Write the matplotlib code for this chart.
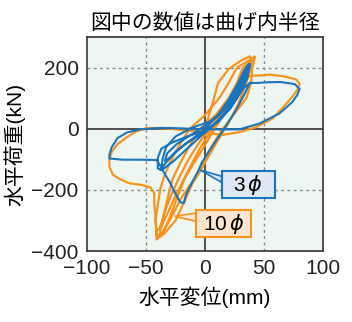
import numpy as np
import matplotlib.pyplot as plt
from matplotlib.patches import Polygon, Rectangle

plt.rcParams['font.family'] = ['Liberation Sans', 'Noto Sans CJK JP']

# 10φ (orange) load-displacement path, x: mm, y: kN
r10_x = [0, 3, 7, 11, 20, 30, 38, 41, 34, 27, 19, 8, -4, -14, -22, -29, -34, -37,
         -39, -37, -31, -24, -17, -9, -1, 8, 18, 28, 35, 40, 42,
         40, 27, 20, 12, 0, -13, -22, -30, -35, -38, -40, -42, -41,
         -35, -25, -19, -13, -7, -2, 6, 15, 25, 35, 39, 40, 42,
         41, 32, 27, 20, 9, -4, -13, -21, -27, -30, -33, -36, -39,
         -37, -31, -26, -21, -16, -11, -3, 6, 16, 27, 34, 37, 42,
         46, 55, 66, 77, 80, 79, 74, 66, 57, 43, 29, 15, 0, -15, -30, -45,
         -50, -58, -66, -74, -79, -81, -81, -78, -72, -64, -53, -46, -43, -43,
         -42, -41, -41, -38, -33, -28, -21, -14, -7, 0, 6, 12, 20, 28, 34, 38, 39]
r10_y = [0, 40, 92, 150, 195, 222, 237, 215, 170, 120, 70, 20, -40, -100, -160, -220,
         -270, -310, -330, -320, -270, -210, -160, -110, -60, 0, 60, 130, 185, 220, 236,
         230, 200, 150, 100, 45, 0, -55, -112, -160, -198, -250, -300, -350,
         -345, -300, -250, -198, -150, -112, -55, 0, 50, 100, 150, 200, 235,
         225, 200, 150, 100, 45, 0, -55, -112, -160, -198, -250, -300, -355,
         -350, -300, -250, -198, -150, -112, -55, 0, 50, 100, 150, 172, 174,
         174, 177, 172, 162, 148, 132, 105, 70, 33, 5, -11, -20, -12, -5, 0, 3,
         2, -8, -27, -50, -75, -100, -124, -150, -165, -178, -184, -192, -210, -245,
         -290, -330, -362, -350, -320, -286, -232, -190, -157, -110, -70, -30, 20, 80,
         140, 190, 225]

# 3φ (blue) load-displacement path
r3_x = [0, 10, 20, 28, 33, 37, 37, 36, 30, 22, 12, 0, -15, -28, -37, -40, -40,
        -37, -36, -33, -25, -10, 5, 15, 24, 31, 36, 38, 35, 28, 20, 10, -2, -15,
        -25, -33, -38, -35, -28, -18, -8, 2, 12, 22, 30, 36, 38, 36, 30, 22, 12,
        0, -12, -24, -32, -34, -30, -20, -8, 8, 22, 32, 38, 45, 52, 64, 76, 80,
        78, 74, 63, 46, 29, 10, -10, -25, -38, -55, -66, -74, -79, -81, -81, -70,
        -55, -41, -38, -36, -33, -30, -26, -21, -18, -16, -11, -6, -3, 3, 10,
        18, 26, 33, 38]
r3_y = [0, 40, 95, 150, 190, 212, 210, 170, 120, 70, 25, -5, -25, -45, -65, -95,
        -130, -132, -100, -60, -25, 5, 25, 60, 110, 160, 205, 205, 160, 110, 65,
        20, -15, -45, -75, -110, -135, -130, -110, -75, -40, -5, 30, 80, 130, 190,
        212, 195, 140, 90, 45, 10, -20, -50, -80, -105, -95, -60, -25, 15, 70,
        130, 150, 150, 152, 153, 146, 130, 110, 88, 50, 17, -2, -2, 0, 2, 3, -2,
        -12, -30, -60, -85, -97, -101, -101, -102, -120, -135, -155, -173, -205,
        -240, -243, -215, -175, -140, -113, -75, -35, 10, 60, 110, 150]

orange = '#f7941d'
blue = '#1b75bc'

fig = plt.figure(figsize=(3.52, 3.22), dpi=100)
ax = fig.add_axes([0.247, 0.22, 0.671, 0.665])
ax.set_facecolor('#eef6f1')

for v in [-50, 50]:
    ax.axvline(v, color='#888888', ls=(0, (2, 2.5)), lw=1.0, zorder=1)
for v in [-200, 200]:
    ax.axhline(v, color='#888888', ls=(0, (2, 2.5)), lw=1.0, zorder=1)
ax.axvline(0, color='#333333', lw=1.2, zorder=1)
ax.axhline(0, color='#333333', lw=1.2, zorder=1)

ax.plot(r10_x, r10_y, color=orange, lw=1.6, zorder=3)
ax.plot(r3_x, r3_y, color=blue, lw=1.5, zorder=4)

# callouts
ax.add_patch(Polygon([(-4, -135), (14, -155), (14, -175)], closed=True,
                     facecolor='#dfe8f6', edgecolor=blue, lw=1.2, zorder=5))
ax.add_patch(Rectangle((14, -227), 45, 90, facecolor='#dfe8f6',
                       edgecolor=blue, lw=1.5, zorder=6))
ax.text(36.5, -183, r'3$\,\phi$', fontsize=15, ha='center', va='center', zorder=7)

ax.add_patch(Polygon([(-25.7, -286), (-7.3, -275), (-7.3, -303)], closed=True,
                     facecolor='#fde5d0', edgecolor=orange, lw=1.2, zorder=5))
ax.add_patch(Rectangle((-7.3, -354), 46.6, 89, facecolor='#fde5d0',
                       edgecolor=orange, lw=1.5, zorder=6))
ax.text(16, -311, r'10$\,\phi$', fontsize=15, ha='center', va='center', zorder=7)

ax.set_xlim(-100, 100)
ax.set_ylim(-400, 300)
ax.set_xticks([-100, -50, 0, 50, 100])
ax.set_yticks([-400, -200, 0, 200])
ax.tick_params(length=0, labelsize=15, pad=6, colors='#222222')
for s in ax.spines.values():
    s.set_color('#333333')
    s.set_linewidth(1.2)

ax.set_xlabel('水平変位(mm)', fontsize=15, labelpad=6)
ax.set_ylabel('水平荷重(kN)', fontsize=15, labelpad=4)
ax.set_title('図中の数値は曲げ内半径', fontsize=15, pad=6)

fig.savefig('out.png', dpi=100)
